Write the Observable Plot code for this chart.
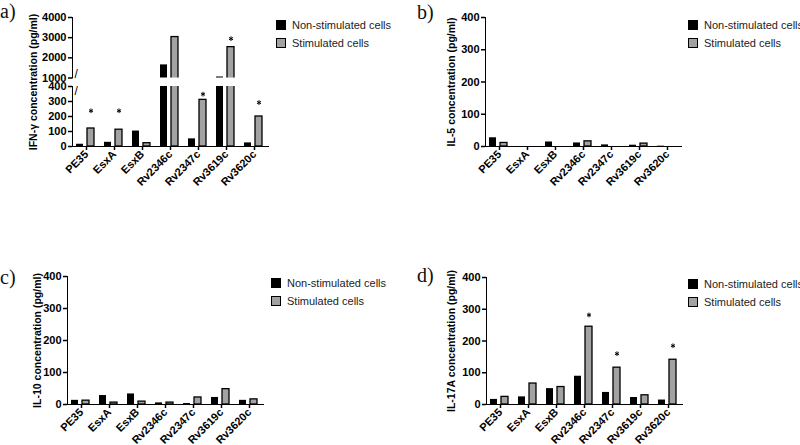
<!DOCTYPE html>
<html>
<head>
<meta charset="utf-8">
<script src="https://cdn.jsdelivr.net/npm/d3@7"></script>
<script src="https://cdn.jsdelivr.net/npm/@observablehq/plot@0.6"></script>
<style>
  body { margin: 0; background: #fff; }
  #root { position: relative; width: 800px; height: 445px; overflow: hidden; background: #fff; font-family: "Liberation Sans", Arial, sans-serif; }
  .panel { position: absolute; }
  .tag { position: absolute; font-family: "Liberation Serif", "Times New Roman", serif; font-size: 20px; line-height: 20px; color: #111; }
  .legend { position: absolute; font-size: 11px; color: #222; white-space: nowrap; }
  .legend .row { display: flex; align-items: center; height: 18px; }
  .legend .sw { width: 10px; height: 10px; box-sizing: border-box; margin-right: 6px; flex: none; }
  .panel svg g[aria-label*="axis"] line, .panel svg g[aria-label*="axis"] path { stroke-width: 1.5px; }
</style>
</head>
<body>
<div id="root"></div>
<script>
// ---- data ----
const categories = ["PE35", "EsxA", "EsxB", "Rv2346c", "Rv2347c", "Rv3619c", "Rv3620c"];
const seriesNames = ["Non-stimulated cells", "Stimulated cells"];
const seriesFill = ["#000000", "#a2a2a2"];

const ifnNon   = [15, 28, 103, 1650, 51, 1050, 24];
const ifnStim  = [120, 112, 22, 3030, 311, 2530, 200];
const il5Non   = [27, 0, 14, 11, 5, 4, 1];
const il5Stim  = [11, 0, 0, 16, 0, 9, 0];
const il10Non  = [13, 28, 33, 5, 3, 22, 13];
const il10Stim = [12, 6, 9, 6, 22, 48, 16];
const il17Non  = [16, 24, 50, 89, 38, 22, 14];
const il17Stim = [24, 66, 55, 245, 116, 29, 141];

const ifnStarCats = ["PE35", "EsxA", "Rv2347c", "Rv3619c", "Rv3620c"];
const ifnStarLevels = [238, 238, 349, 2950, 293];
const il17StarCats = ["Rv2346c", "Rv2347c", "Rv3620c"];
const il17StarLevels = [282, 160, 185];

const ifnLowDomain = [0, 400];
const ifnHighDomain = [1000, 4000];
const ifnLowTicks = [0, 100, 200, 300, 400];
const ifnHighTicks = [1000, 2000, 3000, 4000];
const stdDomain = [0, 400];
const stdTicks = [0, 100, 200, 300, 400];

const panelTags = ["a)", "b)", "c)", "d)"];
const yTitles = ["IFN-γ concentration (pg/ml)", "IL-5 concentration (pg/ml)", "IL-10 concentration (pg/ml)", "IL-17A concentration (pg/ml)"];

// ---- drawing ----
const root = document.getElementById("root");
const FONT = "'Liberation Sans', Arial, sans-serif";

function rowsOf(non, stim) {
  return categories.flatMap((c, i) => [
    {cat: c, series: seriesNames[0], value: non[i]},
    {cat: c, series: seriesNames[1], value: stim[i]}
  ]).filter(d => d.value > 0);
}

function chart(cfg) {
  const data = rowsOf(cfg.non, cfg.stim);
  const [lo, hi] = cfg.domain;
  const stars = (cfg.starCats || []).map((c, i) => ({cat: c, level: cfg.starLevels[i]}))
    .filter(s => s.level >= lo && s.level <= hi);
  const marks = [
    Plot.barY(data.filter(d => d.series === seriesNames[0]),
      {x: "cat", y: "value", fill: "series", insetLeft: 4, insetRight: 17, clip: true}),
    Plot.barY(data.filter(d => d.series === seriesNames[1]),
      {x: "cat", y: "value", fill: "series", stroke: "#000", strokeWidth: 1.3, insetLeft: 15, insetRight: 6, clip: true}),
    Plot.dot(stars, {x: "cat", y: "level", symbol: "asterisk", r: 2.2, dx: 4.5, stroke: "#000", strokeWidth: 1})
  ];
  if (cfg.breakAnchor) {
    marks.push(Plot.text(["/"], {frameAnchor: cfg.breakAnchor, text: d => d, fontSize: 12, fontWeight: "normal", fill: "#000", dx: 2}));
  }
  if (cfg.title) {
    marks.push(Plot.text([cfg.title], {frameAnchor: "left", textAnchor: "middle", dx: -cfg.titleOffset, dy: cfg.titleDy || 0,
      rotate: -90, fontSize: 10.5, fontWeight: "bold", fill: "#000"}));
  }
  const svg = Plot.plot({
    width: cfg.w, height: cfg.h,
    marginLeft: cfg.mL, marginRight: cfg.mR, marginTop: cfg.mT, marginBottom: cfg.mB,
    style: {fontFamily: FONT, fontSize: "11px", fontWeight: "bold", color: "#000", background: "transparent", overflow: "visible"},
    x: cfg.noX
      ? {domain: categories, padding: 0, axis: null}
      : {domain: categories, padding: 0, label: null, tickRotate: -45, tickSize: 4, tickPadding: 2, line: true},
    y: {domain: cfg.domain, ticks: cfg.ticks, tickFormat: "d", label: null, line: true, tickSize: 4, tickPadding: 2, nice: false},
    color: {domain: seriesNames, range: seriesFill},
    marks
  });
  const div = document.createElement("div");
  div.className = "panel";
  div.style.left = cfg.left + "px";
  div.style.top = cfg.top + "px";
  div.appendChild(svg);
  root.appendChild(div);
}

function decorate(tagText, tagX, tagY, legX, legY) {
  const tag = document.createElement("div");
  tag.className = "tag";
  tag.textContent = tagText;
  tag.style.left = tagX + "px";
  tag.style.top = tagY + "px";
  root.appendChild(tag);

  const leg = document.createElement("div");
  leg.className = "legend";
  leg.style.left = legX + "px";
  leg.style.top = legY + "px";
  seriesNames.forEach((s, i) => {
    const row = document.createElement("div");
    row.className = "row";
    const sw = document.createElement("span");
    sw.className = "sw";
    sw.style.background = seriesFill[i];
    sw.style.border = "1.5px solid #000";
    const t = document.createElement("span");
    t.textContent = s;
    row.appendChild(sw); row.appendChild(t);
    leg.appendChild(row);
  });
  root.appendChild(leg);
}

// a) broken axis: upper segment (1000–4000) and lower segment (0–400)
chart({non: ifnNon, stim: ifnStim, starCats: ifnStarCats, starLevels: ifnStarLevels,
  domain: ifnHighDomain, ticks: ifnHighTicks, noX: true, breakAnchor: "bottom-left",
  left: 0, top: 0, w: 400, h: 81, mL: 72, mR: 132, mT: 17, mB: 3.5});
chart({non: ifnNon, stim: ifnStim, starCats: ifnStarCats, starLevels: ifnStarLevels,
  domain: ifnLowDomain, ticks: ifnLowTicks, breakAnchor: "top-left",
  title: yTitles[0], titleOffset: 39, titleDy: -34.5,
  left: 0, top: 81, w: 400, h: 139, mL: 72, mR: 132, mT: 5, mB: 74});
decorate(panelTags[0], 0, 1, 276, 16);

// b)
chart({non: il5Non, stim: il5Stim, domain: stdDomain, ticks: stdTicks,
  title: yTitles[1], titleOffset: 34,
  left: 400, top: 0, w: 400, h: 220, mL: 85, mR: 119, mT: 17, mB: 74});
decorate(panelTags[1], 417, 2, 688, 16);

// c)
chart({non: il10Non, stim: il10Stim, domain: stdDomain, ticks: stdTicks,
  title: yTitles[2], titleOffset: 30,
  left: 0, top: 220, w: 400, h: 225, mL: 67, mR: 137, mT: 56, mB: 41});
decorate(panelTags[2], 0, 267, 271, 274);

// d)
chart({non: il17Non, stim: il17Stim, starCats: il17StarCats, starLevels: il17StarLevels,
  domain: stdDomain, ticks: stdTicks,
  title: yTitles[3], titleOffset: 35,
  left: 400, top: 220, w: 400, h: 225, mL: 86, mR: 118, mT: 57, mB: 41});
decorate(panelTags[3], 417, 265, 688, 275);
</script>
</body>
</html>
